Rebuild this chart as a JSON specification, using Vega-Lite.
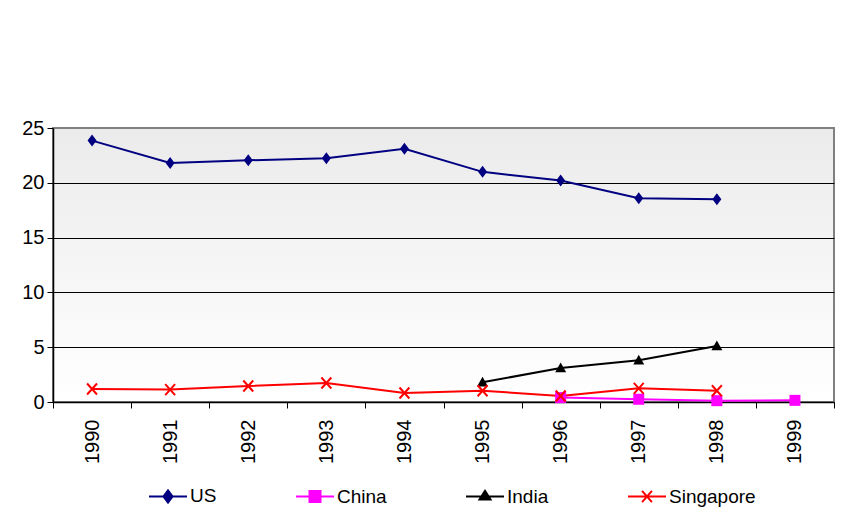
{
  "$schema": "https://vega.github.io/schema/vega-lite/v6.json",
  "width": 781,
  "height": 274,
  "autosize": "none",
  "padding": {"left": 53, "top": 128, "right": 27, "bottom": 117},
  "background": "white",
  "config": {
    "font": "Liberation Sans",
    "view": {
      "stroke": "#808080",
      "strokeWidth": 2,
      "fill": {"gradient": "linear", "x1": 0, "y1": 0, "x2": 0, "y2": 1, "stops": [{"offset": 0, "color": "#ebebeb"}, {"offset": 1, "color": "#ffffff"}]}
    }
  },
  "data": {
    "values": [
      {"year": "1990", "series": "US", "value": 23.85},
      {"year": "1991", "series": "US", "value": 21.8},
      {"year": "1992", "series": "US", "value": 22.05},
      {"year": "1993", "series": "US", "value": 22.25},
      {"year": "1994", "series": "US", "value": 23.1},
      {"year": "1995", "series": "US", "value": 21.0},
      {"year": "1996", "series": "US", "value": 20.2},
      {"year": "1997", "series": "US", "value": 18.6},
      {"year": "1998", "series": "US", "value": 18.5},
      {"year": "1996", "series": "China", "value": 0.4},
      {"year": "1997", "series": "China", "value": 0.25},
      {"year": "1998", "series": "China", "value": 0.12},
      {"year": "1999", "series": "China", "value": 0.15},
      {"year": "1995", "series": "India", "value": 1.8},
      {"year": "1996", "series": "India", "value": 3.1},
      {"year": "1997", "series": "India", "value": 3.8},
      {"year": "1998", "series": "India", "value": 5.1},
      {"year": "1990", "series": "Singapore", "value": 1.19},
      {"year": "1991", "series": "Singapore", "value": 1.13},
      {"year": "1992", "series": "Singapore", "value": 1.46},
      {"year": "1993", "series": "Singapore", "value": 1.73},
      {"year": "1994", "series": "Singapore", "value": 0.82},
      {"year": "1995", "series": "Singapore", "value": 1.03},
      {"year": "1996", "series": "Singapore", "value": 0.55},
      {"year": "1997", "series": "Singapore", "value": 1.25},
      {"year": "1998", "series": "Singapore", "value": 1.03}
    ]
  },
  "encoding": {
    "x": {
      "field": "year",
      "type": "ordinal",
      "scale": {"type": "band", "paddingInner": 0, "paddingOuter": 0, "domain": ["1990","1991","1992","1993","1994","1995","1996","1997","1998","1999"]},
      "axis": {
        "title": null,
        "labelAngle": -90,
        "labelAlign": "right",
        "labelBaseline": "middle",
        "labelFontSize": 20,
        "labelColor": "black",
        "labelPadding": 11,
        "tickBand": "extent",
        "tickColor": "black",
        "tickSize": 6,
        "domainColor": "black",
        "domainWidth": 1.5,
        "grid": false
      }
    },
    "y": {
      "field": "value",
      "type": "quantitative",
      "scale": {"domain": [0, 25], "nice": false},
      "axis": {
        "title": null,
        "values": [0, 5, 10, 15, 20, 25],
        "labelFontSize": 20,
        "labelColor": "black",
        "labelPadding": 3,
        "tickSize": 6,
        "tickColor": "black",
        "domainColor": "black",
        "domainWidth": 1.5,
        "grid": true,
        "gridColor": "black",
        "gridWidth": 1,
        "gridOpacity": {"condition": {"test": "datum.value === 25 || datum.value === 0", "value": 0}, "value": 1}
      }
    }
  },
  "layer": [
    {
      "mark": {"type": "line", "strokeWidth": 2},
      "encoding": {
        "color": {
          "field": "series",
          "type": "nominal",
          "scale": {"domain": ["US", "China", "India", "Singapore"], "range": ["#000080", "#ff00ff", "#000000", "#ff0000"]},
          "legend": {
            "title": null,
            "orient": "none",
            "legendX": 95,
            "legendY": 348,
            "direction": "horizontal",
            "columns": 4,
            "columnPadding": 75,
            "symbolSize": 1444,
            "symbolStrokeWidth": 2,
            "labelFontSize": 19,
            "labelColor": "black",
            "labelOffset": 2,
            "padding": 0,
            "encode": {
              "symbols": {
                "update": {
                  "shape": {"signal": "datum.value === 'US' ? 'M-1,0L1,0M0,-0.32L0.24,0L0,0.32L-0.24,0Z' : datum.value === 'China' ? 'M-1,0L1,0M-0.29,-0.29L0.29,-0.29L0.29,0.29L-0.29,0.29Z' : datum.value === 'India' ? 'M-1,0L1,0M0,-0.3L0.29,0.16L-0.29,0.16Z' : 'M-1,0L1,0M-0.26,-0.3L0.26,0.3M-0.26,0.3L0.26,-0.3'"},
                  "fill": {"signal": "datum.value === 'US' ? '#000080' : datum.value === 'China' ? '#ff00ff' : datum.value === 'India' ? '#000000' : '#ff0000'"},
                  "stroke": {"signal": "datum.value === 'US' ? '#000080' : datum.value === 'China' ? '#ff00ff' : datum.value === 'India' ? '#000000' : '#ff0000'"}
                }
              }
            }
          }
        }
      }
    },
    {
      "transform": [{"filter": "datum.series === 'US'"}],
      "mark": {"type": "point", "filled": true, "opacity": 1, "shape": "M0,-1L0.75,0L0,1L-0.75,0Z", "size": 144, "color": "#000080"}
    },
    {
      "transform": [{"filter": "datum.series === 'China'"}],
      "mark": {"type": "point", "filled": true, "opacity": 1, "shape": "square", "size": 121, "color": "#ff00ff"}
    },
    {
      "transform": [{"filter": "datum.series === 'India'"}],
      "mark": {"type": "point", "filled": true, "opacity": 1, "shape": "M0,-1L1,0.75L-1,0.75Z", "size": 121, "color": "#000000"}
    },
    {
      "transform": [{"filter": "datum.series === 'Singapore'"}],
      "mark": {"type": "point", "filled": false, "opacity": 1, "shape": "M-0.9,-1L0.9,1M-0.9,1L0.9,-1", "size": 121, "strokeWidth": 2, "color": "#ff0000"}
    }
  ]
}
